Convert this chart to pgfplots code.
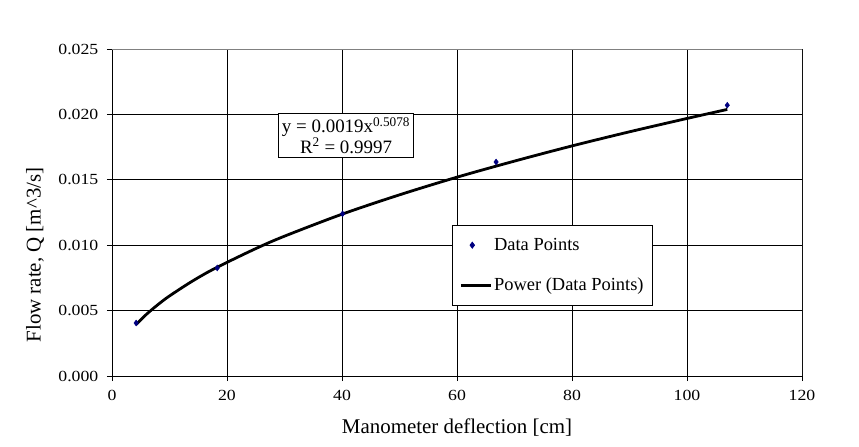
\documentclass[border=0pt]{standalone}
\usepackage{fontspec}
\setmainfont{Liberation Serif}
\usepackage{pgfplots}
\pgfplotsset{compat=1.18}
\definecolor{navy}{RGB}{0,0,128}
\begin{document}
\begin{tikzpicture}
\begin{axis}[
  at={(0,0)}, anchor=south west,
  scale only axis,
  width=690bp, height=327bp,
  xmin=0, xmax=120, ymin=0, ymax=0.025,
  xtick={0,20,...,120},
  ytick={0,0.005,0.010,0.015,0.020,0.025},
  scaled y ticks=false,
  /pgf/number format/assume math mode=true,
  yticklabel style={xshift=-4bp, /pgf/number format/fixed, /pgf/number format/fixed zerofill, /pgf/number format/precision=3},
  xticklabel style={yshift=-6bp, /pgf/number format/fixed},
  tick label style={font=\fontsize{15.5}{18}\selectfont, xscale=1.15},
  label style={font=\fontsize{21}{24}\selectfont},
  xlabel={Manometer deflection [cm]},
  ylabel={Flow rate, Q [m\textasciicircum 3/s]},
  xlabel style={at={(rel axis cs:0.5,0)}, anchor=center, yshift=-52bp},
  ylabel style={at={(rel axis cs:0,0.37)}, anchor=center, yshift=77bp},
  axis x line*=bottom, axis y line*=left,
  axis line style={black, line width=0.8bp, -},
  grid=major,
  major grid style={black, line width=0.8bp},
  tick align=outside,
  major tick length=5bp,
  tick style={black, line width=0.8bp},
  xtick pos=bottom, ytick pos=left,
  legend style={at={(0.493,0.462)}, anchor=north west, draw=black, line width=0.8bp,
    font=\fontsize{18.5}{21}\selectfont, row sep=22bp, inner xsep=7bp, inner ysep=11bp},
  legend cell align=left,
]
\draw[gray, line width=0.8bp] (rel axis cs:0,1) -- (rel axis cs:1,1) -- (rel axis cs:1,0);
\addplot[only marks, mark=diamond*, mark size=3bp, color=navy] coordinates {
  (4.2,0.00405) (18.3,0.00826) (40.1,0.01240) (66.8,0.01636) (107,0.02070)
};
\addlegendentry{Data Points}
\addplot[black, line width=2.8bp, smooth, no marks,
  legend image code/.code={\draw[black, line width=2.8bp] (-0.1cm,0cm) -- (0.95cm,0cm);}] coordinates {
  (4.2,0.00394) (6,0.00472) (8,0.00546) (10,0.00612) (14,0.00726) (18,0.00825)
  (25,0.00974) (30,0.01069) (40,0.01237) (50,0.01385) (60,0.01520) (70,0.01643)
  (80,0.01759) (90,0.01867) (100,0.01969) (107,0.02038)
};
\addlegendentry{Power (Data Points)}
\node[draw=black, line width=0.8bp, fill=white, align=center, inner sep=3.5bp,
  font=\fontsize{19}{21}\selectfont] at (axis cs:40.7,0.0184)
  {y = 0.0019x\textsuperscript{0.5078}\\R\textsuperscript{2} = 0.9997};
\end{axis}
\path (-112bp,-71bp) rectangle (747bp,376bp);
\end{tikzpicture}
\end{document}
